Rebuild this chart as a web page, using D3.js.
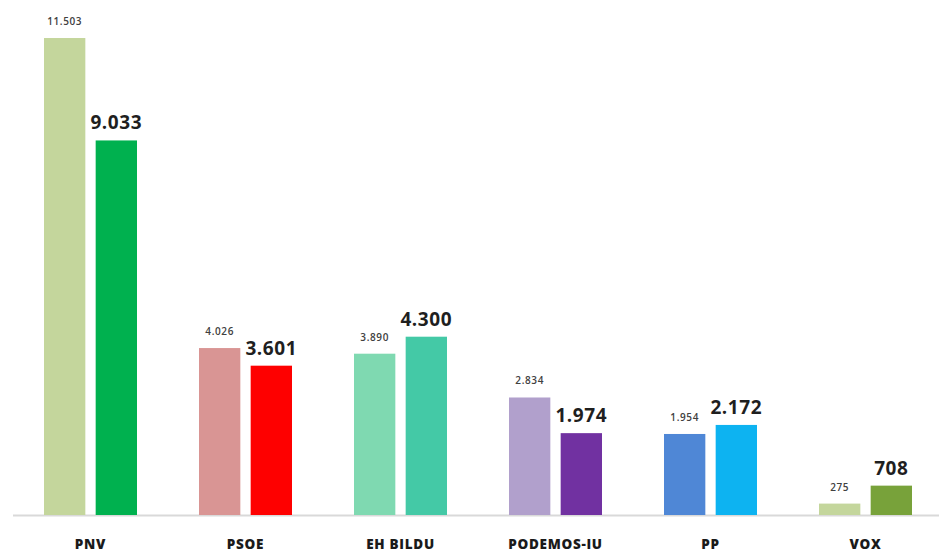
<!DOCTYPE html>
<html>
<head>
<meta charset="utf-8">
<script src="https://cdn.jsdelivr.net/npm/d3@7"></script>
<style>
  body { margin: 0; background: #fff; }
  text { font-family: "Open Sans", sans-serif; }
</style>
</head>
<body>
<svg id="chart" width="939" height="554"></svg>
<script>
// Party names and the two series (previous / current)
const parties = ["PNV", "PSOE", "EH BILDU", "PODEMOS-IU", "PP", "VOX"];
const previousVotes = [11503, 4026, 3890, 2834, 1954, 275];
const currentVotes = [9033, 3601, 4300, 1974, 2172, 708];
const previousColors = ["#c4d69c", "#d99594", "#7fd9b1", "#b1a0cc", "#4f87d6", "#c4d69c"];
const currentColors = ["#00b14f", "#fe0000", "#44c9a6", "#7131a1", "#0db3f1", "#78a23a"];

const width = 939, height = 554;
const baseline = 515;

const svg = d3.select("#chart");

// Format numbers with a dot as thousands separator
const fmt = d3.formatLocale({ decimal: ",", thousands: ".", grouping: [3], currency: ["", "€"] }).format(",d");

const x = d3.scaleBand()
  .domain(parties)
  .range([13, 943])
  .paddingInner(0)
  .paddingOuter(0);

const groupWidth = 93;
const inner = d3.scaleBand()
  .domain(["prev", "curr"])
  .range([x.bandwidth() / 2 - groupWidth / 2, x.bandwidth() / 2 + groupWidth / 2])
  .paddingInner(0.2);

const y = d3.scaleLinear()
  .domain([0, 12420])
  .range([baseline, 0]);

const data = parties.map((p, i) => ({
  party: p,
  bars: [
    { key: "prev", value: previousVotes[i], color: previousColors[i] },
    { key: "curr", value: currentVotes[i], color: currentColors[i] }
  ]
}));

// Base axis line
svg.append("line")
  .attr("x1", 13)
  .attr("x2", width)
  .attr("y1", baseline + 0.5)
  .attr("y2", baseline + 0.5)
  .attr("stroke", "#d9d9d9")
  .attr("stroke-width", 2);

const groups = svg.selectAll(".group")
  .data(data)
  .join("g")
  .attr("class", "group")
  .attr("transform", d => `translate(${x(d.party)},0)`);

groups.selectAll("rect")
  .data(d => d.bars)
  .join("rect")
  .attr("x", d => inner(d.key))
  .attr("y", d => y(d.value))
  .attr("width", inner.bandwidth())
  .attr("height", d => baseline - y(d.value))
  .attr("fill", d => d.color);

// Value labels
groups.selectAll(".value")
  .data(d => d.bars)
  .join("text")
  .attr("class", "value")
  .attr("x", d => inner(d.key) + inner.bandwidth() / 2)
  .attr("y", d => y(d.value) - (d.key === "prev" ? 13 : 11))
  .attr("text-anchor", "middle")
  .attr("fill", d => d.key === "prev" ? "#404040" : "#1f1f1f")
  .attr("font-weight", d => d.key === "prev" ? 600 : 700)
  .attr("font-size", d => d.key === "prev" ? "10px" : "19px")
  .attr("letter-spacing", d => d.key === "prev" ? "0.6px" : "0.6px")
  .text(d => fmt(d.value));

// Category labels
groups.append("text")
  .attr("x", x.bandwidth() / 2)
  .attr("y", 549)
  .attr("text-anchor", "middle")
  .attr("fill", "#1a1a1a")
  .attr("font-weight", 800)
  .attr("font-size", "13.5px")
  .attr("letter-spacing", "0.7px")
  .text(d => d.party);
</script>
</body>
</html>
